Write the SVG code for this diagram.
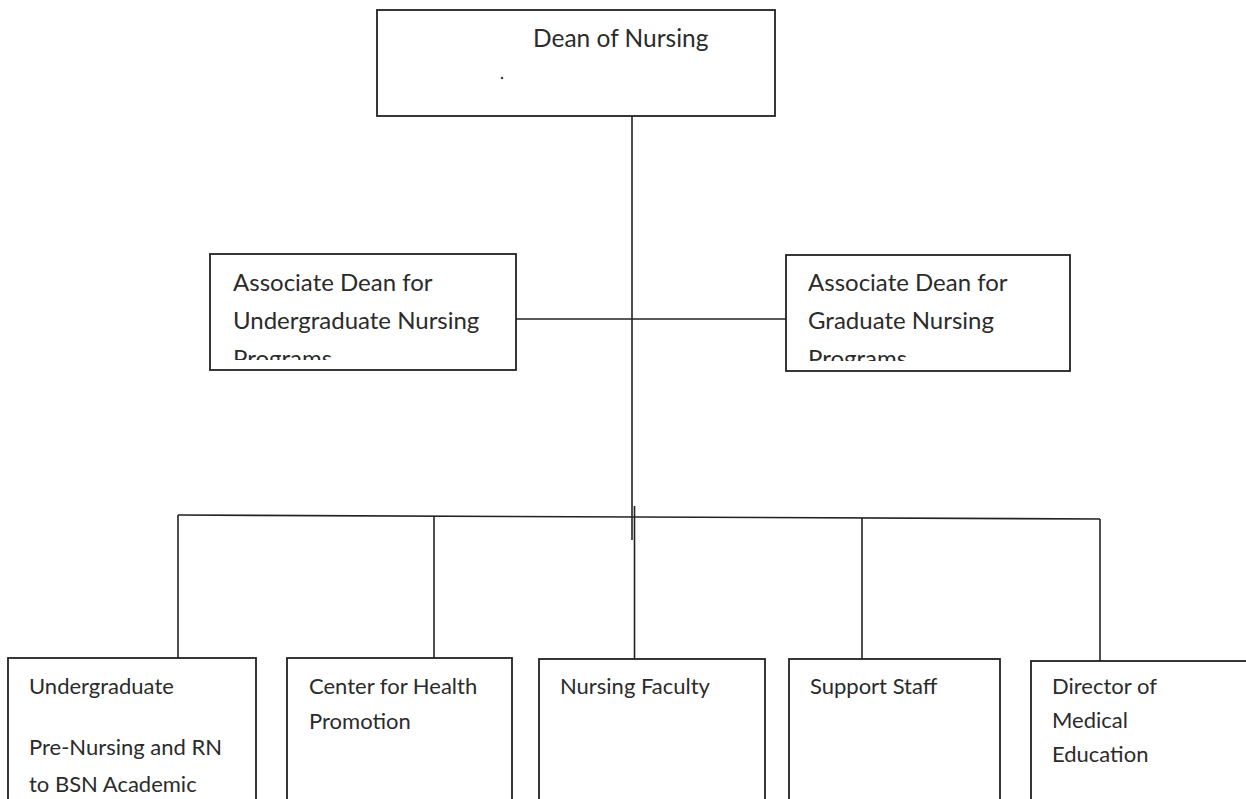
<svg xmlns="http://www.w3.org/2000/svg" width="1246" height="799" viewBox="0 0 1246 799">
<style>
.box{fill:#fff;stroke:#222;stroke-width:1.8}
.ln{stroke:#222;stroke-width:1.6;fill:none}
.t{font-family:Lato,"Open Sans",sans-serif;fill:#2b2b2b}
.t1{font-size:24.5px}
.t2{font-size:24px}
.t3{font-size:22px}
</style>
<defs>
<clipPath id="clipL"><rect x="210" y="254" width="306" height="106"/></clipPath>
<clipPath id="clipR"><rect x="786" y="255" width="284" height="106"/></clipPath>
</defs>
<rect width="1246" height="799" fill="#fff"/>
<g id="connectors">
<line class="ln" x1="632" y1="116" x2="632" y2="540"/>
<line class="ln" x1="516" y1="319" x2="786" y2="319"/>
<line class="ln" x1="178" y1="515" x2="1100" y2="519"/>
<line class="ln" x1="178" y1="515" x2="178" y2="658"/>
<line class="ln" x1="434" y1="516" x2="434" y2="658"/>
<line class="ln" x1="634.5" y1="506" x2="634.5" y2="659"/>
<line class="ln" x1="862" y1="518" x2="862" y2="659"/>
<line class="ln" x1="1100" y1="519" x2="1100" y2="661"/>
</g>
<g id="dean">
<rect class="box" x="377" y="10" width="398" height="106"/>
<text class="t t1" x="533" y="47">Dean of Nursing</text>
<circle cx="502" cy="78" r="1.3" fill="#444"/>
</g>
<g id="assoc-undergrad">
<rect class="box" x="210" y="254" width="306" height="116"/>
<g clip-path="url(#clipL)">
<text class="t t2" x="233" y="291">Associate Dean for</text>
<text class="t t2" x="233" y="329">Undergraduate Nursing</text>
<text class="t t2" x="233" y="367">Programs</text>
</g>
</g>
<g id="assoc-grad">
<rect class="box" x="786" y="255" width="284" height="116"/>
<g clip-path="url(#clipR)">
<text class="t t2" x="808" y="291">Associate Dean for</text>
<text class="t t2" x="808" y="329">Graduate Nursing</text>
<text class="t t2" x="808" y="367">Programs</text>
</g>
</g>
<g id="undergraduate">
<rect class="box" x="8" y="658" width="248" height="160"/>
<text class="t t3" x="29" y="694">Undergraduate</text>
<text class="t t3" x="29" y="755">Pre-Nursing and RN</text>
<text class="t t3" x="29" y="792">to BSN Academic</text>
</g>
<g id="health-promotion">
<rect class="box" x="287" y="658" width="225" height="160"/>
<text class="t t3" x="309" y="694">Center for Health</text>
<text class="t t3" x="309" y="729">Promotion</text>
</g>
<g id="faculty">
<rect class="box" x="539" y="659" width="226" height="160"/>
<text class="t t3" x="560" y="694">Nursing Faculty</text>
</g>
<g id="support">
<rect class="box" x="789" y="659" width="211" height="160"/>
<text class="t t3" x="810" y="694">Support Staff</text>
</g>
<g id="director">
<rect class="box" x="1031" y="661" width="230" height="160"/>
<text class="t t3" x="1052" y="694">Director of</text>
<text class="t t3" x="1052" y="728">Medical</text>
<text class="t t3" x="1052" y="762">Education</text>
</g>
</svg>
